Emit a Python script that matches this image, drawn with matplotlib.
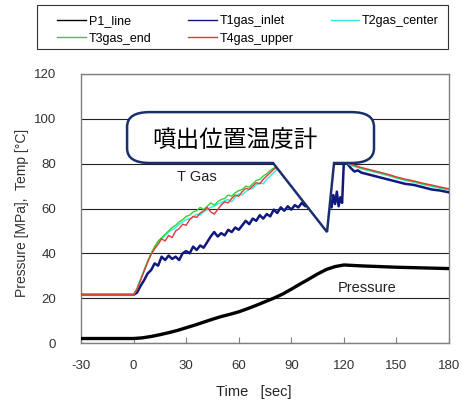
import matplotlib
matplotlib.use("Agg")
import matplotlib.pyplot as plt
from matplotlib.path import Path
from matplotlib.patches import PathPatch, Rectangle

plt.rcParams['font.family'] = ['Liberation Sans', 'DejaVu Sans']
plt.rcParams['axes.unicode_minus'] = False

# pressure P1 [MPa]
p1_time = [-30, 0, 5, 10, 15, 20, 25, 30, 35, 40, 45, 50, 55, 60, 65, 70, 75,
           80, 85, 90, 95, 100, 105, 110, 115, 120, 125, 130, 140, 150, 160, 170, 180]
p1_line = [2.0, 2.0, 2.3, 2.9, 3.7, 4.6, 5.6, 6.8, 8.0, 9.3, 10.6, 11.8, 12.8, 13.9,
           15.3, 16.8, 18.4, 20.0, 21.8, 24.0, 26.3, 28.5, 30.8, 32.8, 34.1, 34.8,
           34.6, 34.4, 34.1, 33.8, 33.6, 33.4, 33.2]

# inlet gas temperature T1 [degC]
t1_time = [-30, 0, 2, 4, 6, 8, 10, 12, 14, 16, 18, 20, 22, 24, 26, 28, 30, 32, 34,
           36, 38, 40, 42, 44, 46, 48, 50, 52, 54, 56, 58, 60, 62, 64, 66, 68, 70,
           72, 74, 76, 78, 80, 82, 84, 86, 88, 90, 92, 94, 96, 98, 100, 102, 104,
           106, 108, 110, 112, 113, 114, 115, 116, 117, 118, 119, 120, 122, 124,
           126, 128, 130, 135, 140, 145, 150, 155, 160, 165, 170, 175, 180]
t1_gas_inlet = [21.5, 21.5, 22.5, 25.5, 28.0, 31.0, 32.5, 35.5, 34.5, 38.5, 37.0,
                39.0, 37.5, 38.5, 37.0, 40.0, 41.0, 40.0, 43.0, 41.5, 43.5, 42.5,
                45.0, 47.5, 49.5, 47.5, 49.0, 48.0, 50.5, 49.5, 51.5, 50.5, 52.5,
                54.5, 53.0, 55.5, 54.5, 57.0, 55.5, 57.5, 56.5, 59.5, 58.0, 60.5,
                59.0, 61.0, 59.5, 61.5, 60.5, 62.5, 61.0, 62.5, 61.5, 63.0, 62.0,
                63.5, 62.0, 64.0, 60.5, 66.0, 62.0, 67.5, 61.0, 65.0, 62.5, 81.0,
                80.0, 78.0, 76.5, 77.0, 76.0, 75.0, 74.0, 73.0, 72.0, 71.0, 70.5,
                69.5, 68.5, 68.0, 67.2]

# gas temperatures T2..T4 [degC]
gas_time = [-30, 0, 2, 4, 6, 8, 10, 12, 14, 16, 18, 20, 22, 24, 26, 28, 30, 32, 34,
            36, 38, 40, 42, 44, 46, 48, 50, 52, 54, 56, 58, 60, 62, 64, 66, 68, 70,
            72, 74, 76, 78, 80, 82, 90, 100, 110, 118, 120, 122, 124, 126, 128,
            130, 135, 140, 145, 150, 155, 160, 165, 170, 175, 180]
t2_gas_center = [21.5, 21.5, 24.0, 28.0, 32.0, 36.0, 39.5, 42.5, 45.0, 46.5, 48.0,
                 49.5, 50.5, 51.5, 53.0, 54.0, 55.0, 55.5, 56.0, 57.5, 57.0, 58.5,
                 59.5, 60.5, 61.0, 62.0, 62.5, 63.5, 64.0, 63.0, 65.0, 66.5, 66.0,
                 67.5, 68.5, 69.0, 70.5, 71.5, 71.0, 73.0, 74.5, 76.0, 77.5, 81.0,
                 83.5, 84.5, 82.5, 81.5, 80.2, 79.2, 78.7, 78.2, 77.7, 76.7, 75.7,
                 74.7, 73.5, 72.5, 71.7, 70.7, 69.9, 69.0, 68.2]
t3_gas_end = [21.5, 21.5, 24.5, 28.5, 32.5, 36.5, 40.0, 43.0, 45.5, 47.0, 48.5,
              50.0, 51.5, 52.5, 54.0, 55.0, 56.5, 57.0, 58.5, 59.0, 60.5, 59.5,
              61.0, 62.5, 61.5, 63.0, 64.0, 64.5, 66.0, 65.5, 67.0, 68.0, 68.5,
              70.0, 69.5, 71.0, 72.5, 73.0, 74.5, 75.5, 77.0, 78.0, 79.0, 82.0,
              84.0, 85.0, 83.0, 82.0, 80.5, 79.5, 79.0, 78.5, 78.0, 77.0, 76.0,
              75.0, 73.8, 72.8, 72.0, 71.0, 70.2, 69.3, 68.5]
t4_gas_upper = [21.5, 21.5, 24.0, 28.0, 32.0, 36.0, 39.5, 42.0, 44.0, 46.5, 45.5,
                48.0, 47.0, 50.0, 51.0, 53.0, 52.5, 55.0, 56.5, 56.0, 58.0, 59.0,
                60.5, 58.5, 57.5, 59.5, 61.5, 63.0, 62.5, 64.5, 66.0, 65.5, 67.5,
                69.0, 68.5, 70.0, 71.5, 71.0, 73.0, 74.5, 76.0, 77.5, 78.5, 82.0,
                84.0, 85.0, 83.0, 82.0, 80.8, 79.8, 79.3, 78.8, 78.3, 77.3, 76.3,
                75.3, 74.1, 73.1, 72.3, 71.3, 70.5, 69.6, 68.8]

x_ticks = [-30, 0, 30, 60, 90, 120, 150, 180]
y_ticks = [0, 20, 40, 60, 80, 100, 120]

fig = plt.figure(figsize=(4.62, 4.03), dpi=100)
ax = fig.add_axes([81 / 462, 60 / 403, 368 / 462, 269 / 403])

l_p1, = ax.plot(p1_time, p1_line, color="black", lw=2.4, label="P1_line", zorder=3)
l_t1, = ax.plot(t1_time, t1_gas_inlet, color="#10187e", lw=1.8, label="T1gas_inlet", zorder=3)
l_t2, = ax.plot(gas_time, t2_gas_center, color="#38e6e6", lw=1.0, label="T2gas_center", zorder=3)
l_t3, = ax.plot(gas_time, t3_gas_end, color="#36d036", lw=1.0, label="T3gas_end", zorder=3)
l_t4, = ax.plot(gas_time, t4_gas_upper, color="#e03a3a", lw=1.0, label="T4gas_upper", zorder=3)

ax.set_xlim(-30, 180)
ax.set_ylim(0, 120)
ax.set_xticks(x_ticks)
ax.set_yticks(y_ticks)
ax.yaxis.grid(True, color="#202020", lw=0.8)
ax.set_axisbelow(True)
for spine in ax.spines.values():
    spine.set_color("#808080")
    spine.set_linewidth(1.0)
ax.tick_params(axis="x", direction="in", length=4, color="#808080",
               labelsize=9.5, pad=12, labelcolor="#333333")
ax.tick_params(axis="y", length=0, labelsize=9.5, pad=18, labelcolor="#333333")

ax.text(36, 74, "T Gas", fontsize=10.5, ha="center", va="center", color="#222222")
ax.text(133, 24.5, "Pressure", fontsize=10.5, ha="center", va="center", color="#222222")

# speech-bubble callout over the gas curves
L, R, T, B = -3.7, 137.2, 103.0, 80.3
rx, ry = 13.0, 6.5
tail_l, tail_r, tip = 79.6, 114.4, (110.4, 49.5)
verts = [(L + rx, T), (R - rx, T), (R, T), (R, T - ry), (R, B + ry), (R, B),
         (R - rx, B), (tail_r, B), tip, (tail_l, B), (L + rx, B), (L, B),
         (L, B + ry), (L, T - ry), (L, T), (L + rx, T), (L + rx, T)]
codes = [Path.MOVETO, Path.LINETO, Path.CURVE3, Path.CURVE3, Path.LINETO,
         Path.CURVE3, Path.CURVE3, Path.LINETO, Path.LINETO, Path.LINETO,
         Path.LINETO, Path.CURVE3, Path.CURVE3, Path.LINETO, Path.CURVE3,
         Path.CURVE3, Path.CLOSEPOLY]
ax.add_patch(PathPatch(Path(verts, codes), facecolor="white",
                       edgecolor="#1b2f6e", lw=1.8, zorder=5))
ax.text(57.6, 90.5, "噴出位置温度計", fontsize=17, ha="center", va="center",
        family=["Noto Sans CJK JP", "DejaVu Sans"], color="black", zorder=6)

fig.text(22 / 462, 1 - 213 / 403, "Pressure [MPa],  Temp [°C]", rotation=90,
         fontsize=10, ha="center", va="center", color="#333333")
fig.text(254 / 462, 1 - 392 / 403, "Time   [sec]", fontsize=10.5,
         ha="center", va="center", color="#222222")

# legend: entries row by row, box drawn separately
fig.add_artist(Rectangle((37 / 462, 1 - 49 / 403), 411 / 462, 44 / 403,
                         transform=fig.transFigure, fill=False,
                         edgecolor="#333333", lw=0.8))
handles = [l_p1, l_t3, l_t1, l_t4, l_t2]
leg = fig.legend(handles, [h.get_label() for h in handles], loc="lower left",
                 bbox_to_anchor=(53 / 462, 1 - 49 / 403, 390 / 462, 44 / 403),
                 mode="expand", ncol=3, fontsize=9, frameon=False,
                 handlelength=2.3, handletextpad=0.2, borderaxespad=0,
                 labelspacing=0.45, borderpad=0.35)
for line in leg.get_lines():
    line.set_linewidth(1.0)

fig.savefig("out.png", dpi=100)
